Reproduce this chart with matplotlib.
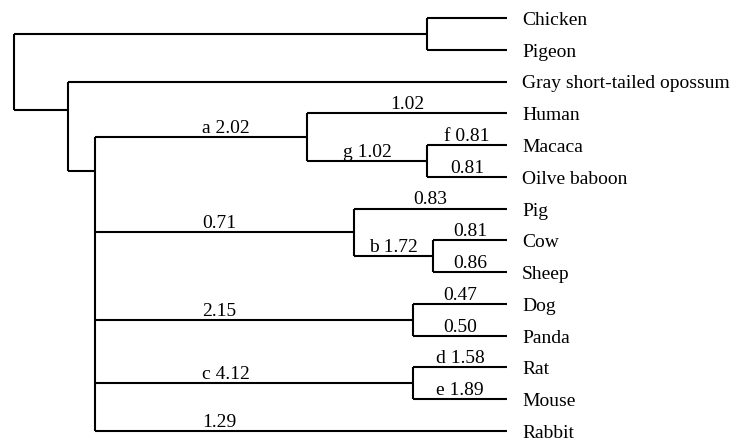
import matplotlib
matplotlib.use("Agg")
import matplotlib.pyplot as plt

# ---------------- data ----------------
leaves = ["Chicken", "Pigeon", "Gray short-tailed opossum", "Human", "Macaca",
          "Oilve baboon", "Pig", "Cow", "Sheep", "Dog", "Panda", "Rat", "Mouse",
          "Rabbit"]

# clade name -> children (leaves or clades)
clades = {
    "root": ["birds", "mammals"],
    "birds": ["Chicken", "Pigeon"],
    "mammals": ["Gray short-tailed opossum", "eutheria"],
    "eutheria": ["primates", "artio", "carn", "rodents", "Rabbit"],
    "primates": ["Human", "old_world"],
    "old_world": ["Macaca", "Oilve baboon"],
    "artio": ["Pig", "bovids"],
    "bovids": ["Cow", "Sheep"],
    "carn": ["Dog", "Panda"],
    "rodents": ["Rat", "Mouse"],
}

branch_nodes = ["primates", "Human", "old_world", "Macaca", "Oilve baboon",
                "artio", "Pig", "bovids", "Cow", "Sheep",
                "carn", "Dog", "Panda",
                "rodents", "Rat", "Mouse", "Rabbit"]
branch_tags = ["a", "", "g", "f", "",
               "", "", "b", "", "",
               "", "", "",
               "c", "d", "e", ""]
branch_lengths = [2.02, 1.02, 1.02, 0.81, 0.81,
                  0.71, 0.83, 1.72, 0.81, 0.86,
                  2.15, 0.47, 0.50,
                  4.12, 1.58, 1.89, 1.29]

# ---------------- layout (drawing positions, not data) ----------------
node_x = {"root": 14, "birds": 427, "mammals": 68, "eutheria": 95,
          "primates": 307, "old_world": 427, "artio": 354, "bovids": 433,
          "carn": 413, "rodents": 413}
node_anchor = {"eutheria": 0.116, "mammals": 0.32}
tip_x = 507
label_x = 522
main_label_x = 202
LW = 1.5
FS = 14
FONT = "Liberation Serif"

fig = plt.figure(figsize=(7.35, 4.41), dpi=100)
ax = fig.add_axes([0, 0, 1, 1])
ax.set_xlim(0, 735)
ax.set_ylim(13.315, -0.567)
ax.axis("off")

row = {name: i for i, name in enumerate(leaves)}
ypos = {}


def node_y(n):
    if n in ypos:
        return ypos[n]
    if n in row:
        ypos[n] = row[n]
    else:
        ys = [node_y(c) for c in clades[n]]
        f = node_anchor.get(n, 0.5)
        ypos[n] = ys[0] + f * (ys[-1] - ys[0])
    return ypos[n]


def xof(n):
    return tip_x if n in row else node_x[n]


node_y("root")

for parent, kids in clades.items():
    px = node_x[parent]
    ys = [ypos[k] for k in kids]
    ax.plot([px, px], [min(ys), max(ys)], color="black", lw=LW,
            solid_capstyle="butt")
    for k in kids:
        ax.plot([px, xof(k)], [ypos[k], ypos[k]], color="black", lw=LW,
                solid_capstyle="butt")

parent_of = {k: p for p, ks in clades.items() for k in ks}

for node, tag, val in zip(branch_nodes, branch_tags, branch_lengths):
    txt = f"{tag} {val:.2f}".strip()
    p = parent_of[node]
    x0, x1 = node_x[p], xof(node)
    if p == "eutheria":
        ax.annotate(txt, (main_label_x, ypos[node]), xytext=(0, 3),
                    textcoords="offset points", ha="left", va="baseline",
                    fontsize=FS, family=FONT)
    else:
        ax.annotate(txt, ((x0 + x1) / 2, ypos[node]), xytext=(0, 3),
                    textcoords="offset points", ha="center", va="baseline",
                    fontsize=FS, family=FONT)

for name in leaves:
    ax.annotate(name, (label_x, ypos[name]), xytext=(0, -5),
                textcoords="offset points", ha="left", va="baseline",
                fontsize=FS, family=FONT)

fig.savefig("out.png", dpi=100, facecolor="white")
